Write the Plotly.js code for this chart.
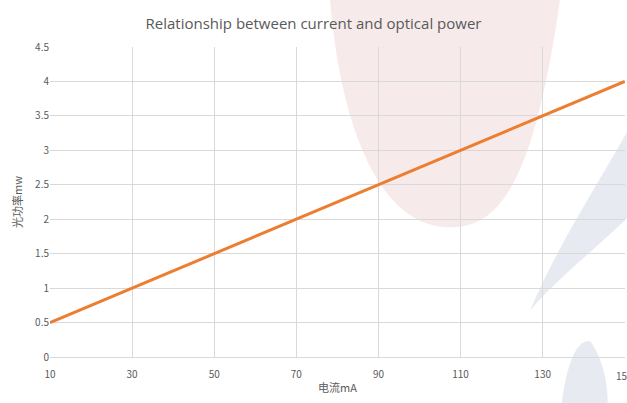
<!DOCTYPE html>
<html>
<head>
<meta charset="utf-8">
<script src="https://cdn.plot.ly/plotly-3.0.1.min.js"></script>
<style>body{margin:0;background:#fff}</style>
</head>
<body>
<div id="chart" style="width:627px;height:403px"></div>
<script>
var current = [10, 30, 50, 70, 90, 110, 130, 150];
var power = [0.5, 1, 1.5, 2, 2.5, 3, 3.5, 4];

var trace = {
	type: 'scatter',
	mode: 'lines',
	x: current,
	y: power,
	line: {color: '#ed7d31', width: 3},
	hoverinfo: 'x+y'
};

var layout = {
	width: 627,
	height: 403,
	margin: {l: 50, r: 2, t: 47, b: 46},
	paper_bgcolor: '#fff',
	plot_bgcolor: 'rgba(0,0,0,0)',
	font: {family: 'Noto Sans CJK SC, DejaVu Sans, sans-serif', color: '#595959', size: 10},
	title: {text: 'Relationship between current and optical power', x: 0.5, y: 0.955,
		font: {size: 15, color: '#595959', family: 'Open Sans, sans-serif'}},
	showlegend: false,
	xaxis: {
		range: [10, 150.05], tickvals: current, showgrid: true, gridcolor: '#d9d9d9',
		zeroline: false, showline: true, linecolor: '#d9d9d9',
		ticks: 'outside', ticklen: 8, tickcolor: 'rgba(0,0,0,0)',
		title: {text: '电流mA', font: {size: 11}, standoff: 4}
	},
	yaxis: {
		range: [0, 4.5], dtick: 0.5, gridcolor: '#d9d9d9', zeroline: false, ticks: '',
		title: {text: '光功率mw', font: {size: 11}, standoff: 10}
	},
	annotations: [
		// last tick label, cut off at the page edge like in the original
		{x: current[current.length - 1], y: 0, xref: 'x', yref: 'paper', yanchor: 'top',
			yshift: -9, showarrow: false, text: String(current[current.length - 1]),
			font: {size: 10, color: '#595959'}}
	],
	shapes: [
		{type: 'path', xref: 'paper', yref: 'paper', layer: 'below', line: {width: 0},
			fillcolor: 'rgba(225,190,185,0.3)',
			path: 'M 0.487 1.152 C 0.50 0.85, 0.55 0.45, 0.68 0.42 C 0.78 0.40, 0.84 0.55, 0.887 1.152 Z'},
		{type: 'path', xref: 'paper', yref: 'paper', layer: 'below', line: {width: 0},
			fillcolor: 'rgba(190,195,215,0.35)',
			path: 'M 0.835 0.15 C 0.88 0.35, 0.95 0.55, 1.005 0.73 L 1.005 0.45 C 0.95 0.35, 0.88 0.25, 0.835 0.15 Z'},
		{type: 'path', xref: 'paper', yref: 'paper', layer: 'below', line: {width: 0},
			fillcolor: 'rgba(190,195,215,0.35)',
			path: 'M 0.89 -0.15 C 0.90 0.0, 0.92 0.06, 0.94 0.05 C 0.96 0.0, 0.97 -0.08, 0.97 -0.15 Z'}
	]
};

Plotly.newPlot('chart', [trace], layout, {displayModeBar: false});
</script>
</body>
</html>
